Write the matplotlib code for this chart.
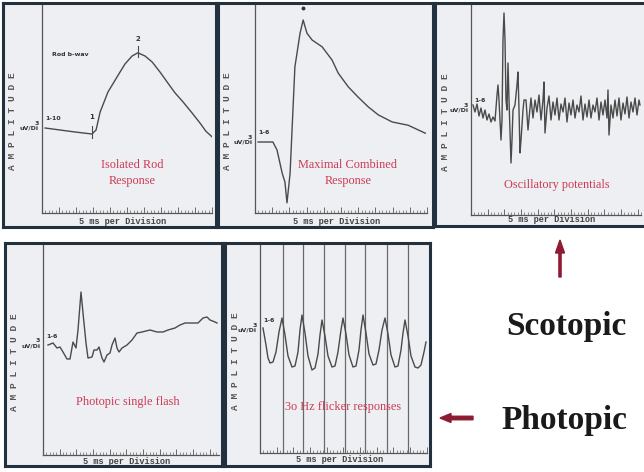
#!/usr/bin/env python3
"""Full-field ERG panels: scotopic (top row) and photopic (bottom row) responses."""
import matplotlib
matplotlib.use("Agg")
import matplotlib.pyplot as plt
from matplotlib.patches import FancyArrow

W, H = 644, 472

# --- waveforms (time in ms, amplitude in uV) ------------------------------
rod_t = [0.9, 5.3, 9.7, 14.7, 15.9, 17.1, 19.4, 22.1, 24.4, 26.5, 28.2, 30.3,
         32.4, 34.7, 36.8, 39.1, 41.5, 44.1, 46.5, 48.2, 50.0]
rod_uv = [0, -5, -10, -15, -5, 40, 90, 128, 160, 180, 188, 180,
          165, 140, 115, 88, 65, 38, 12, -8, -22]

mixed_t = [0.9, 5.2, 6.4, 7.9, 8.7, 9.3, 10.2, 11.6, 13.1, 14.0, 15.1, 16.6,
           19.5, 22.4, 24.2, 27.1, 30.0, 32.9, 35.8, 39.9, 44.5, 49.5]
mixed_uv = [0, 0, -20, -78, -100, -152, -78, 188, 272, 305, 272, 255,
            238, 205, 172, 138, 112, 88, 68, 50, 42, 22]

op_t = [0.6, 1.2, 1.8, 2.4, 3.0, 3.6, 4.2, 4.8, 5.4, 6.0, 6.6, 7.2, 7.8, 8.1,
        8.4, 9.0, 9.3, 9.6, 9.9, 10.2, 10.5, 10.8, 11.1, 11.4, 12.0, 12.3,
        12.6, 13.2, 13.8, 14.1, 14.4, 14.7, 15.0, 15.6, 15.9, 16.5, 16.8,
        17.1, 17.7, 18.0, 18.6, 19.2, 19.8, 20.4, 21.0, 21.6, 21.9, 22.2,
        22.8, 23.4, 24.0, 24.6, 25.2, 25.8, 26.4, 27.0, 27.6, 28.2, 28.8,
        29.4, 30.0, 30.6, 31.2, 31.8, 32.4, 33.0, 33.6, 34.2, 34.8, 35.4,
        36.0, 36.6, 37.2, 37.8, 38.4, 39.0, 39.6, 40.2, 40.8, 41.1, 41.4,
        42.0, 42.6, 43.2, 43.8, 44.4, 45.0, 45.6, 46.2, 46.8, 47.4, 48.0,
        48.6, 49.2, 49.8, 50.4, 50.7]
op_uv = [5, -2, 6, -6, 2, -8, 0, -10, -4, -12, -7, -11, 15, 25,
         10, -30, -10, 70, 97, 70, 10, 0, 47, 10, -53, -30,
         0, 5, 25, 38, 0, -43, -30, 0, 10, 10, -5,
         -20, 2, 12, -8, 10, -2, 15, -10, 10, 28, -23,
         2, 14, -10, 8, -5, 12, -10, 6, -2, 12, -12,
         7, -5, 10, -8, 5, -2, 14, -10, 6, -7, 10,
         -8, 5, -2, 12, -10, 8, -5, 10, -8, 20, -25,
         5, -8, 10, -6, 12, -10, 7, -4, 13, -8, 8,
         -2, 12, -5, 10, 5]

cone_t = [1.5, 3.0, 4.2, 5.1, 6.0, 7.2, 8.1, 9.0, 9.9, 10.5, 11.4, 12.0, 12.9,
          13.5, 14.7, 15.3, 16.2, 16.8, 17.7, 18.3, 19.2, 20.1, 20.7, 21.6,
          22.2, 22.8, 23.7, 25.2, 26.7, 28.2, 29.7, 32.1, 34.2, 36.0, 37.5,
          39.6, 41.1, 42.6, 44.7, 46.5, 48.0, 49.2, 50.1, 51.6, 52.2]
cone_uv = [0, 2, -3, -2, -7, -14, -14, 3, -3, 15, 53, 32, 2,
           -13, -12, -5, -5, -2, -13, -17, -10, -8, 0, 7,
           -3, -7, -3, 0, 5, 12, 13, 15, 13, 13, 15,
           17, 20, 22, 22, 22, 27, 28, 25, 23, 22]

flicker_t = [0.9, 1.8, 2.4, 3.0, 3.9, 4.8, 5.7, 6.6, 7.5, 8.4, 9.6, 10.5, 11.4,
             12.0, 12.6, 13.5, 14.4, 15.6, 16.5, 17.4, 18.0, 18.6, 19.5, 20.4,
             21.6, 22.5, 23.4, 24.3, 24.9, 25.8, 26.7, 27.9, 28.8, 29.7, 30.3,
             30.9, 31.8, 32.7, 33.9, 34.8, 35.7, 36.6, 37.5, 38.4, 39.3, 40.5,
             41.4, 42.3, 42.9, 43.5, 44.4, 45.3, 46.5, 47.4, 48.3, 49.2, 49.8]
flicker_uv = [2, -15, -28, -33, -32, -22, -2, 12, -5, -26, -37, -36, -22,
              0, 15, -3, -26, -40, -38, -24, -5, 10, -6, -26,
              -37, -36, -22, 0, 12, -4, -25, -37, -36, -20, 0,
              15, -3, -24, -35, -34, -20, 0, 12, -4, -25, -37,
              -36, -20, -3, 10, -6, -26, -37, -38, -35, -22, -12]
flash_t = [6.9, 12.9, 19.2, 25.5, 31.5, 38.1, 44.4]

titles = ["Isolated Rod\nResponse", "Maximal Combined\nResponse",
          "Oscillatory potentials", "Photopic single flash",
          "3o Hz flicker responses"]
range_labels = ["1-10", "1-6", "1-6", "1-6", "1-6"]

# --- layout (pixels, y measured from the top) ------------------------------
PANELS = [
    dict(outer=(3, 3, 216, 227), inner=(42, 5, 212, 213), base=128, s=2.5,
         xmax=50.0, title_xy=(132, 173), foot_y=221),
    dict(outer=(218, 3, 433, 227), inner=(255, 5, 427, 213), base=142, s=2.5,
         xmax=50.0, title_xy=(348, 173), foot_y=221),
    dict(outer=(435, 3, 648, 226), inner=(471, 5, 641, 215), base=110, s=1.0,
         xmax=51.0, title_xy=(557, 185), foot_y=220),
    dict(outer=(5, 243, 222, 466), inner=(43, 245, 219, 455), base=345, s=1.0,
         xmax=52.8, title_xy=(128, 402), foot_y=461),
    dict(outer=(225, 243, 430, 466), inner=(260, 245, 427, 453), base=330, s=1.0,
         xmax=50.1, title_xy=(343, 407), foot_y=459),
]
traces = [(rod_t, rod_uv), (mixed_t, mixed_uv), (op_t, op_uv),
          (cone_t, cone_uv), (flicker_t, flicker_uv)]

FACE = "#edeff2"
BORDER = "#22313f"
TRACE = "#4a4a4a"
RED = "#cc3a55"
ARROW = "#8e1b32"
SERIF = ["Liberation Serif", "DejaVu Serif"]
MONO = ["Liberation Mono", "DejaVu Sans Mono"]


def fbox(x0, y0, x1, y1):
    return [x0 / W, 1 - y1 / H, (x1 - x0) / W, (y1 - y0) / H]


def fpt(x, y):
    return x / W, 1 - y / H


fig = plt.figure(figsize=(W / 100, H / 100), dpi=100)
fig.patch.set_facecolor("white")

for i, (p, (t, uv)) in enumerate(zip(PANELS, traces)):
    ox0, oy0, ox1, oy1 = p["outer"]
    ix0, iy0, ix1, iy1 = p["inner"]

    frame = fig.add_axes(fbox(*p["outer"]))
    frame.set_facecolor(FACE)
    frame.set_xticks([])
    frame.set_yticks([])
    for sp in frame.spines.values():
        sp.set_color(BORDER)
        sp.set_linewidth(2.2)

    ax = fig.add_axes(fbox(*p["inner"]))
    ax.patch.set_alpha(0)
    ax.set_xlim(0, p["xmax"])
    ax.set_ylim((p["base"] - iy1) * p["s"], (p["base"] - iy0) * p["s"])
    for side in ("top", "right"):
        ax.spines[side].set_visible(False)
    ax.spines["left"].set_color("#555555")
    ax.spines["bottom"].set_color("#555555")
    ax.spines["left"].set_linewidth(0.9)
    ax.spines["bottom"].set_linewidth(0.9)
    ax.set_yticks([])
    ax.set_xticks([x for x in range(0, int(p["xmax"]) + 1, 5)])
    ax.set_xticks([x for x in range(0, int(p["xmax"]) + 1)], minor=True)
    ax.tick_params(axis="x", which="major", direction="in", length=4,
                   width=0.6, color="#555555", labelbottom=False)
    ax.tick_params(axis="x", which="minor", direction="in", length=2,
                   width=0.5, color="#666666")

    if i == 4:
        for ft in flash_t:
            ax.axvline(ft, color="#6a6a6a", lw=0.9, zorder=1)
    ax.plot(t, uv, color=TRACE, lw=1.0, zorder=3)

    # side labels
    fig.text(*fpt(ox0 + 10, (iy0 + iy1) / 2 + 12), "A M P L I T U D E",
             rotation=90, ha="center", va="center", fontsize=6.8,
             fontweight="bold", color="#555555", family=MONO)
    fig.text(*fpt(ix0 - 3, p["base"] - 2), "3\nuV/Di", ha="right",
             va="center", fontsize=4.5, fontweight="bold", color="#333333",
             linespacing=1.0)
    fig.text(*fpt(ix0 + 3, p["base"] - 9), range_labels[i], ha="left",
             va="center", fontsize=4.5, fontweight="bold", color="#333333")
    fig.text(*fpt((ix0 + ix1) / 2 - 4, p["foot_y"]), "5 ms per Division",
             ha="center", va="center", fontsize=6.2, fontweight="bold",
             color="#444444", family=MONO)
    fig.text(*fpt(*p["title_xy"]), titles[i], ha="center", va="center",
             fontsize=8.8, color=RED, family=SERIF, linespacing=1.5)

# markers on the rod response
ax_rod = fig.axes[1]
ax_rod.plot([rod_t[3], rod_t[3]], [-25, 5], color=TRACE, lw=0.8)
ax_rod.plot([rod_t[10], rod_t[10]], [178, 205], color=TRACE, lw=0.8)
ax_rod.text(rod_t[3], 20, "1", ha="center", va="bottom", fontsize=5,
            fontweight="bold", color="#333333")
ax_rod.text(rod_t[10], 215, "2", ha="center", va="bottom", fontsize=5,
            fontweight="bold", color="#333333")
fig.text(*fpt(52, 55), "Rod b-wav", ha="left", va="center", fontsize=4.5,
         fontweight="bold", color="#333333")
ax_mix = fig.axes[3]
ax_mix.plot([mixed_t[9]], [mixed_uv[9] + 30], marker="o", ms=1.8,
            color="#333333")

# scotopic / photopic legend
fig.text(*fpt(566, 327), "Scotopic", ha="center", va="center", fontsize=24,
         fontweight="bold", color="#1a1a1a", family=SERIF)
fig.text(*fpt(564, 420), "Photopic", ha="center", va="center", fontsize=24,
         fontweight="bold", color="#1a1a1a", family=SERIF)
fig.patches.append(FancyArrow(
    *fpt(560, 277), 0, 37 / H, width=2.2 / W, head_width=9 / W,
    head_length=13 / H, length_includes_head=True, color=ARROW,
    transform=fig.transFigure))
fig.patches.append(FancyArrow(
    *fpt(473, 418), -33 / W, 0, width=3.5 / H, head_width=9 / H,
    head_length=11 / W, length_includes_head=True, color=ARROW,
    transform=fig.transFigure))

fig.savefig("out.png", dpi=100)
